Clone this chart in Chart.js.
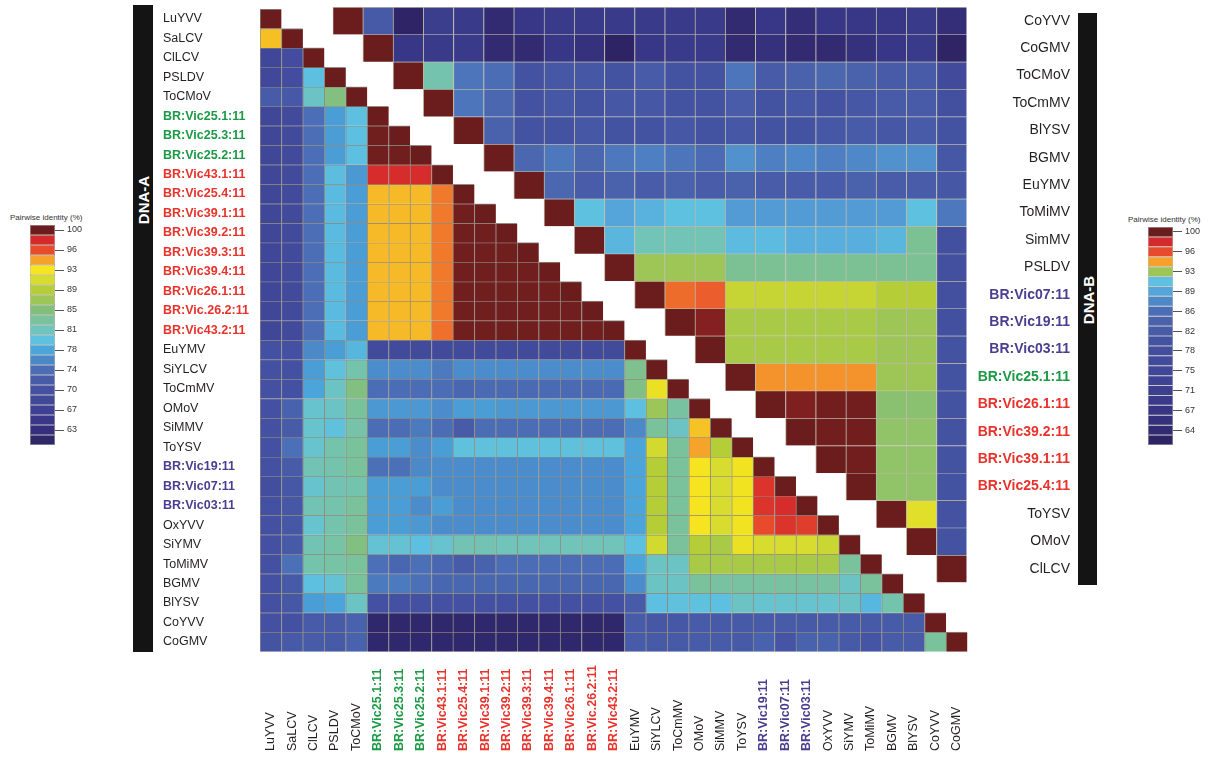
<!DOCTYPE html>
<html>
<head>
<meta charset="utf-8">
<script src="https://cdn.jsdelivr.net/npm/chart.js@4.4.1/dist/chart.umd.min.js"></script>
<style>
  body { margin: 0; background: #fff; width: 1217px; height: 764px; overflow: hidden; position: relative; font-family: 'Liberation Sans', Arial, sans-serif; }
  canvas { position: absolute; }
  .band { position: absolute; background: #141414; }
  .band span { position: absolute; left: 50%; color: #fff; font-weight: bold; font-size: 15px; white-space: nowrap; transform: translate(-50%, -50%) rotate(-90deg); }
  .keytitle { position: absolute; font-size: 8px; color: #333; white-space: nowrap; }
</style>
</head>
<body>
<div class="band" style="left:133px;top:5px;width:20px;height:647px;"><span style="top:195px;">DNA-A</span></div>
<div class="band" style="left:1078px;top:13px;width:19px;height:572px;"><span style="top:287px;">DNA-B</span></div>
<div class="keytitle" style="left:10px;top:213px;">Pairwise identity (%)</div>
<div class="keytitle" style="left:1128px;top:215px;">Pairwise identity (%)</div>
<canvas id="heatA" width="1217" height="764" style="left:0;top:0;"></canvas>
<canvas id="heatB" width="1217" height="764" style="left:0;top:0;"></canvas>
<canvas id="keyA" width="130" height="245" style="left:0;top:205px;"></canvas>
<canvas id="keyB" width="107" height="245" style="left:1110px;top:205px;"></canvas>
<script>
// 标签 (DNA-A: 左侧和底部, DNA-B: 右侧)
const labelsA = ['LuYVV', 'SaLCV', 'ClLCV', 'PSLDV', 'ToCMoV', 'BR:Vic25.1:11', 'BR:Vic25.3:11', 'BR:Vic25.2:11',
  'BR:Vic43.1:11', 'BR:Vic25.4:11', 'BR:Vic39.1:11', 'BR:Vic39.2:11', 'BR:Vic39.3:11', 'BR:Vic39.4:11',
  'BR:Vic26.1:11', 'BR:Vic.26.2:11', 'BR:Vic43.2:11', 'EuYMV', 'SiYLCV', 'ToCmMV', 'OMoV', 'SiMMV', 'ToYSV',
  'BR:Vic19:11', 'BR:Vic07:11', 'BR:Vic03:11', 'OxYVV', 'SiYMV', 'ToMiMV', 'BGMV', 'BlYSV', 'CoYVV', 'CoGMV'];
// 0 = black, 1 = green, 2 = red, 3 = purple
const groupA = [0, 0, 0, 0, 0, 1, 1, 1, 2, 2, 2, 2, 2, 2, 2, 2, 2, 0, 0, 0, 0, 0, 0, 3, 3, 3, 0, 0, 0, 0, 0, 0, 0];

const labelsB = ['CoYVV', 'CoGMV', 'ToCMoV', 'ToCmMV', 'BlYSV', 'BGMV', 'EuYMV', 'ToMiMV', 'SimMV', 'PSLDV',
  'BR:Vic07:11', 'BR:Vic19:11', 'BR:Vic03:11', 'BR:Vic25.1:11', 'BR:Vic26.1:11', 'BR:Vic39.2:11', 'BR:Vic39.1:11',
  'BR:Vic25.4:11', 'ToYSV', 'OMoV', 'ClLCV'];
const groupB = [0, 0, 0, 0, 0, 0, 0, 0, 0, 0, 3, 3, 3, 1, 2, 2, 2, 2, 0, 0, 0];

// DNA-A pairwise identity (%), lower triangle: row i holds columns 0..i
const identityA = [
  [100],
  [93.6, 100],
  [68, 69.5, 100],
  [68.5, 69.5, 79.6, 100],
  [72.3, 71.8, 81, 85, 100],
  [68, 69, 74.2, 77.3, 79.6, 100],
  [68, 69, 74.2, 77.3, 79.6, 99.9, 100],
  [68, 69, 74.2, 77.3, 79.6, 99.9, 99.9, 100],
  [68, 69, 74.2, 79.4, 77, 98, 98, 98, 100],
  [68, 69, 74.2, 79.2, 77.3, 93.8, 93.8, 93.8, 95.3, 100],
  [68, 69, 74.2, 79.2, 77.3, 93.8, 93.8, 93.8, 95.3, 99.9, 100],
  [68, 69, 74.2, 79.2, 77.3, 93.8, 93.8, 93.8, 95.3, 99.9, 99.9, 100],
  [68, 69, 74.2, 79.2, 77.3, 93.8, 93.8, 93.8, 95.3, 99.9, 99.9, 99.9, 100],
  [68, 69, 74.2, 79.2, 77.3, 93.8, 93.8, 93.8, 95.3, 99.9, 99.9, 99.9, 99.9, 100],
  [68, 69, 74.2, 79.2, 77.3, 93.8, 93.8, 93.8, 95.3, 99.9, 99.9, 99.9, 99.9, 99.9, 100],
  [68, 69, 74.2, 79.2, 77.3, 93.8, 93.8, 93.8, 95.3, 99.9, 99.9, 99.9, 99.9, 99.9, 99.9, 100],
  [68, 69, 74.2, 79.2, 77.3, 93.8, 93.8, 93.8, 95.5, 99.9, 99.9, 99.9, 99.9, 99.9, 99.9, 99.9, 100],
  [70.4, 70.4, 76, 77.3, 78.9, 69, 69, 69, 69, 69, 69, 69, 69, 69, 69, 69, 69, 100],
  [70.4, 70.4, 77.3, 79.8, 82.4, 76.3, 76.3, 76.3, 75, 76.3, 76.3, 76.3, 76.3, 76.3, 76.3, 76.3, 76.3, 84.1, 100],
  [70.4, 70.4, 77.8, 81.1, 84.8, 74.1, 74.1, 74.1, 74.1, 73.4, 73.8, 73.8, 73.8, 73.8, 73.8, 73.8, 73.8, 84.5, 92, 100],
  [70.4, 73, 80.6, 81.1, 83.4, 77, 77, 77, 76.3, 77.3, 77.3, 77, 77, 77, 77, 77, 77, 79.6, 87, 83, 100],
  [70.4, 72.3, 80.6, 79.8, 82.6, 74.1, 74.1, 75, 74.1, 72.3, 74.1, 74.1, 74.1, 74.1, 74.1, 74.1, 74.1, 76, 83.4, 81.1, 93.5, 100],
  [70.4, 74.3, 80.6, 82.4, 83.4, 77.3, 77.3, 76.3, 77.3, 79.8, 79.8, 79.8, 79.8, 79.8, 79.8, 79.8, 79.8, 77.8, 90.5, 83.4, 94.4, 88.9, 100],
  [70.4, 72.3, 82, 82.4, 83.4, 74.3, 74.3, 76, 76.3, 76.3, 76.3, 76.3, 76.3, 76.3, 76.3, 76.3, 76.3, 77.8, 88.9, 83.4, 92.6, 90.75, 92.4, 100],
  [70, 71.5, 80.6, 82, 82.4, 77.3, 77.3, 77.3, 76.3, 76.3, 76.3, 76.3, 76.3, 76.3, 76.3, 76.3, 76.3, 77.8, 88.9, 83.4, 92.6, 90.75, 92.4, 97.6, 100],
  [70.4, 71.5, 82, 82.4, 83.4, 77.3, 77.3, 76.3, 77.3, 76.3, 76.3, 76.3, 76.3, 76.3, 76.3, 76.3, 76.3, 77.8, 88.9, 83.4, 92.6, 90.75, 92.4, 97.6, 98, 100],
  [70.4, 71.5, 80.6, 82.4, 83.4, 77.3, 77.3, 77, 76.3, 76.3, 76.3, 76.3, 76.3, 76.3, 76.3, 76.3, 76.3, 77.8, 88.9, 83.4, 92.6, 90.75, 92.4, 96.3, 97.6, 97, 100],
  [70.4, 72, 82, 82.8, 84.8, 80.3, 80.3, 79.6, 80.6, 82, 82, 81.6, 81.6, 81.6, 81.6, 81.6, 81.6, 79.6, 90.5, 83.4, 88.9, 88, 92, 90.75, 90.75, 90.75, 90, 100],
  [70.4, 74.3, 82.4, 82.8, 83.4, 74.3, 73.4, 74.3, 73.4, 72.3, 73, 74.1, 74.1, 74.1, 74.1, 74.1, 74.1, 77.8, 81.1, 81.1, 88, 88, 88, 88, 88, 88, 88, 83.4, 100],
  [70.4, 72, 79.6, 80.2, 83.4, 75, 75, 74.3, 73.4, 73.4, 73.4, 73.4, 73.4, 73.4, 73.4, 73.4, 73.4, 76.3, 81.1, 81.1, 83.4, 83, 83, 83, 83, 83, 83, 81.1, 83.4, 100],
  [70.4, 71.5, 77.3, 77.8, 81.1, 70.6, 70.6, 70.6, 70.6, 70.6, 70.6, 70.6, 70.6, 70.6, 70.6, 70.6, 70.6, 72.3, 79.6, 79.8, 79.8, 79.6, 81.1, 80.6, 80.6, 80.6, 80.6, 81, 79, 82.4, 100],
  [70.4, 70.4, 72.3, 72.3, 73, 61.5, 61.5, 61.5, 61.5, 61.5, 61.5, 61.5, 61.5, 61.5, 61.5, 61.5, 61.5, 72.3, 71.5, 71.5, 72.3, 72, 72, 72.3, 72.3, 72, 72.3, 72.2, 72, 72.3, 72.2, 100],
  [70.9, 72, 72.3, 72, 73, 61.5, 61.5, 61.5, 61.5, 61.5, 61.5, 61.5, 61.5, 61.5, 61.5, 61.5, 61.5, 72.3, 72, 72, 72.3, 72.2, 72, 73, 71, 73, 73, 72, 71, 72.3, 72.2, 83.4, 100]
];

// DNA-B pairwise identity (%), upper triangle: row i holds columns i..20
const identityB = [
  [100, 82, 63, 72, 71.4, 66, 70, 71.4, 71.4, 71.4, 71.4, 71.4, 71.4, 66, 70, 67, 70, 70, 70, 71.4, 67],
  [100, 70, 71.4, 71.4, 66, 66, 70, 68, 62.5, 70, 71.4, 71.4, 66, 68, 66, 66, 68, 70, 71.4, 63],
  [100, 91.9, 86.3, 85.8, 80.4, 81.5, 81.5, 80.4, 82.2, 80.4, 80.4, 86.3, 82.2, 84, 84.8, 84, 82.2, 82.2, 77],
  [100, 86.3, 84.8, 80.4, 81.5, 80.4, 81.5, 81.5, 80.4, 80.4, 82.5, 80.4, 81.5, 80.4, 81.5, 82.2, 82.2, 79],
  [100, 84, 80.4, 80.4, 81.5, 80.4, 80.4, 81.5, 80.4, 81.5, 80.4, 80.4, 81.5, 82.2, 81.5, 82.2, 80.4],
  [100, 84.8, 86.5, 84.8, 86.5, 87, 86.3, 85.5, 88.2, 87, 87.6, 87, 87.6, 88.2, 88.2, 81.5],
  [100, 84.8, 82.5, 84, 82.5, 84, 82.5, 84, 82.5, 82.5, 82.5, 84, 82.5, 82.5, 81.5],
  [100, 91.2, 89.4, 90.2, 91.2, 91.2, 88.8, 88.8, 88.8, 88.8, 88.8, 88.8, 91.2, 86.5],
  [100, 90.5, 91.8, 91.8, 91.8, 90.8, 90.8, 90, 90, 90, 90.5, 92.3, 79],
  [100, 93, 93, 93, 92.3, 92.3, 92.3, 92.3, 92.3, 92.3, 92.3, 79],
  [100, 95.9, 96.2, 93.45, 93.45, 93.45, 93.45, 93.45, 93.3, 93.3, 79],
  [100, 99.6, 93.15, 93.15, 93.15, 93.15, 93.15, 93, 93, 79],
  [100, 93.15, 93.15, 93.15, 93.15, 93.15, 93, 93, 80.4],
  [100, 95.1, 95.1, 95.1, 95.1, 93, 93, 80.4],
  [100, 99.7, 99.9, 99.9, 92.7, 92.7, 80.4],
  [100, 99.9, 99.9, 92.8, 92.8, 80.4],
  [100, 99.9, 92.8, 92.8, 80.4],
  [100, 92.8, 92.8, 80.4],
  [100, 93.8, 80.4],
  [100, 80.4],
  [100]
];

// 图例刻度
const keyTicksA = [100, 96, 93, 89, 85, 81, 78, 74, 70, 67, 63];
const keyTicksB = [100, 96, 93, 89, 86, 82, 78, 75, 71, 67, 64];

// colours
const keyColoursA = ['#6b1d1d', '#d42a2c', '#e84a2c', '#f6a12b', '#f5e41f', '#d7dc2f', '#b5ce38', '#9dc657',
  '#84bf7a', '#7ac29c', '#6fc4bc', '#5fc1e0', '#4ba5db', '#4b88c8', '#4b6db6', '#475ba9', '#4450a1', '#41489a',
  '#3d4094', '#3a378a', '#352e7c', '#2f2768'];
const keyColoursB = ['#6b1d1d', '#d42a2c', '#e84a2c', '#f6a12b', '#9dc657', '#5fc1e0', '#55a5da', '#4f88c8',
  '#4b6db6', '#4a62ac', '#475ba9', '#4452a2', '#434e9e', '#424a9b', '#404698', '#3e4294', '#3c3e90', '#3a3a8a',
  '#383585', '#35307c', '#322b72', '#2e2465'];
const stopsA = keyColoursA.map((c, k) => [100 - 1.85 * k, c]);
const stopsB = [[100, '#6b1d1d'], [98.4, '#d42a2c'], [96.6, '#e84a2c'], [94.8, '#f6a12b'], [94.2, '#f5e41f'],
  [93.6, '#d7dc2f'], [93.3, '#b5ce38'], [93, '#9dc657'], [92.6, '#84bf7a'], [92.2, '#7ac29c'], [91.7, '#6fc4bc'],
  [91.2, '#5fc1e0'], [89.4, '#55a5da'], [87.6, '#4f88c8'], [85.8, '#4b6db6'], [84, '#4a62ac'], [82.2, '#475ba9'],
  [80.4, '#4452a2'], [78.6, '#434e9e'], [76.8, '#424a9b'], [75, '#404698'], [73.2, '#3e4294'], [71.4, '#3a3a8a'],
  [69.6, '#383585'], [67.8, '#35307c'], [66, '#322b72'], [64.2, '#302868'], [62.4, '#2e2465']];
const textColours = ['#231f20', '#1b9a45', '#e8322b', '#4b3d8f'];
const FONT = "'Liberation Sans', Arial, sans-serif";

function hexToRgb(h) {
  const n = parseInt(h.slice(1), 16);
  return [n >> 16, (n >> 8) & 255, n & 255];
}

/**
 * 数值 -> 颜色 (在色标之间线性插值)
 */
function colourFor(v, stops) {
  if (v >= stops[0][0]) return stops[0][1];
  for (let k = 1; k < stops.length; k++) {
    if (v >= stops[k][0]) {
      const t = (stops[k - 1][0] - v) / (stops[k - 1][0] - stops[k][0]);
      const a = hexToRgb(stops[k - 1][1]);
      const b = hexToRgb(stops[k][1]);
      return 'rgb(' + a.map((c, m) => Math.round(c + (b[m] - c) * t)).join(',') + ')';
    }
  }
  return stops[stops.length - 1][1];
}

/**
 * 每一行一个 dataset, 每个格子是一根浮动柱 [i-0.5, i+0.5]
 */
function heatDatasets(rows, labels, upper, stops, edge) {
  const n = labels.length;
  return rows.map((vals, i) => {
    const data = [];
    const colours = [];
    for (let j = 0; j < n; j++) {
      const k = upper ? j - i : j;
      const v = (k >= 0 && k < vals.length) ? vals[k] : null;
      data.push(v === null ? null : [i - 0.5, i + 0.5]);
      colours.push(v === null ? 'rgba(0,0,0,0)' : colourFor(v, stops));
    }
    return {
      label: labels[i],
      data: data,
      backgroundColor: colours,
      borderColor: edge,
      borderWidth: { top: 1, left: 1, right: 0, bottom: 0 },
      borderSkipped: false,
      inflateAmount: 0.35
    };
  });
}

function rowAxis(labels, groups, position, width, size) {
  return {
    type: 'linear',
    position: position,
    reverse: true,
    min: -0.5,
    max: labels.length - 0.5,
    afterBuildTicks: (s) => { s.ticks = labels.map((_, i) => ({ value: i })); },
    afterFit: (s) => { s.width = width; s.paddingTop = 0; s.paddingBottom = 0; },
    grid: { display: false },
    border: { display: false },
    ticks: {
      autoSkip: false,
      crossAlign: 'far',
      padding: 0,
      callback: (v, i) => labels[i],
      color: (ctx) => textColours[groups[ctx.index]],
      font: (ctx) => ({ family: FONT, size: size, weight: groups[ctx.index] ? 'bold' : 'normal' })
    }
  };
}

const barDefaults = { grouped: false, barPercentage: 1, categoryPercentage: 1 };

// 底部竖排标签
const bottomLabels = {
  id: 'bottomLabels',
  afterDraw(chart) {
    const x = chart.scales.x;
    const ctx = chart.ctx;
    labelsA.forEach((name, j) => {
      ctx.save();
      ctx.translate(x.getPixelForValue(j), 751);
      ctx.rotate(-Math.PI / 2);
      ctx.font = (groupA[j] ? 'bold ' : '') + '12.5px ' + FONT;
      ctx.fillStyle = textColours[groupA[j]];
      ctx.textAlign = 'left';
      ctx.textBaseline = 'middle';
      ctx.fillText(name, 0, 0);
      ctx.restore();
    });
  }
};

new Chart(document.getElementById('heatA'), {
  type: 'bar',
  data: { labels: labelsA, datasets: heatDatasets(identityA, labelsA, false, stopsA, '#8f8d82') },
  options: {
    responsive: false,
    animation: false,
    events: [],
    datasets: { bar: barDefaults },
    layout: { padding: { left: 163, right: 249.5, top: 9, bottom: 112.3 } },
    plugins: { legend: { display: false }, tooltip: { enabled: false } },
    scales: {
      x: { type: 'category', display: false },
      y: rowAxis(labelsA, groupA, 'left', 97, 12.5)
    }
  },
  plugins: [bottomLabels]
});

new Chart(document.getElementById('heatB'), {
  type: 'bar',
  data: { labels: labelsB, datasets: heatDatasets(identityB, labelsB, true, stopsB, '#bcb9a5') },
  options: {
    responsive: false,
    animation: false,
    events: [],
    datasets: { bar: barDefaults },
    layout: { padding: { left: 332.7, right: 147, top: 7, bottom: 181.5 } },
    plugins: { legend: { display: false }, tooltip: { enabled: false } },
    scales: {
      x: { type: 'category', display: false },
      y: rowAxis(labelsB, groupB, 'right', 103.3, 14)
    }
  }
});

/**
 * 色标图例 (每个色块一根浮动柱)
 */
function makeKey(id, colours, ticks, padding) {
  new Chart(document.getElementById(id), {
    type: 'bar',
    data: {
      labels: [''],
      datasets: colours.map((c, k) => ({
        data: [[k, k + 1]],
        backgroundColor: c,
        borderColor: 'rgba(40,40,40,0.55)',
        borderWidth: 0.5,
        borderSkipped: false,
        inflateAmount: 0
      }))
    },
    options: {
      responsive: false,
      animation: false,
      events: [],
      datasets: { bar: barDefaults },
      layout: { padding: padding },
      plugins: { legend: { display: false }, tooltip: { enabled: false } },
      scales: {
        x: { display: false },
        y: {
          position: 'right',
          reverse: true,
          min: 0,
          max: colours.length,
          afterBuildTicks: (s) => { s.ticks = ticks.map((_, i) => ({ value: 2 * i + 0.5 })); },
          afterFit: (s) => { s.width = 40; s.paddingTop = 0; s.paddingBottom = 0; },
          border: { display: false },
          grid: { drawOnChartArea: false, drawTicks: true, tickLength: 9, color: '#555', lineWidth: 1 },
          ticks: {
            autoSkip: false,
            padding: 3,
            color: '#333',
            font: { family: FONT, size: 9 },
            callback: (v, i) => ticks[i]
          }
        }
      }
    }
  });
}

makeKey('keyA', keyColoursA, keyTicksA, { left: 30, right: 35, top: 20, bottom: 5 });
makeKey('keyB', keyColoursB, keyTicksB, { left: 38, right: 4, top: 22, bottom: 5 });
</script>
</body>
</html>
